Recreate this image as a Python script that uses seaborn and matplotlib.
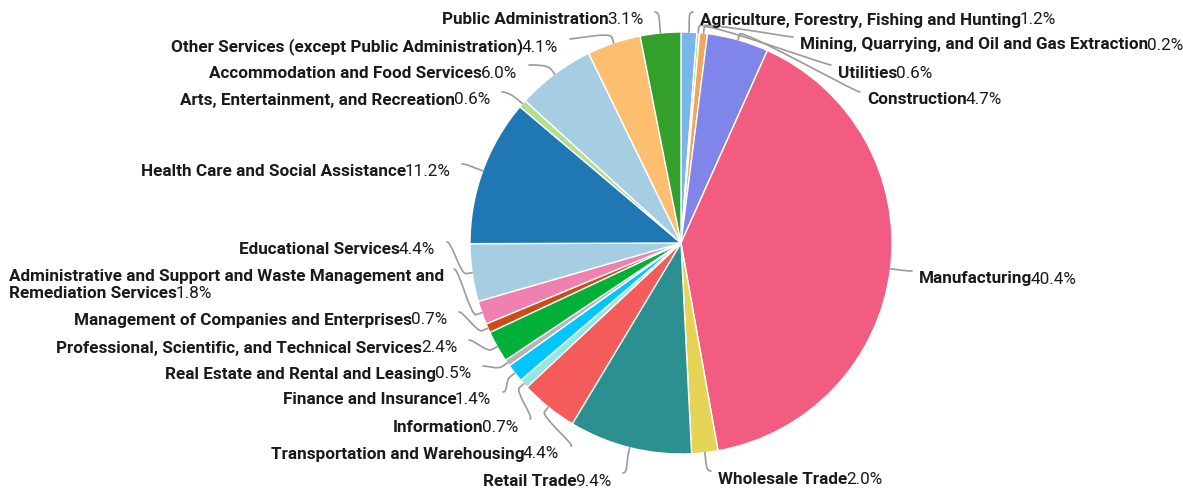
import numpy as np
import matplotlib
matplotlib.use("Agg")
import matplotlib.pyplot as plt
import seaborn as sns
from matplotlib.path import Path
from matplotlib.patches import PathPatch

sectors = [
    "Agriculture, Forestry, Fishing and Hunting",
    "Mining, Quarrying, and Oil and Gas Extraction",
    "Utilities",
    "Construction",
    "Manufacturing",
    "Wholesale Trade",
    "Retail Trade",
    "Transportation and Warehousing",
    "Information",
    "Finance and Insurance",
    "Real Estate and Rental and Leasing",
    "Professional, Scientific, and Technical Services",
    "Management of Companies and Enterprises",
    "Administrative and Support and Waste Management and\nRemediation Services",
    "Educational Services",
    "Health Care and Social Assistance",
    "Arts, Entertainment, and Recreation",
    "Accommodation and Food Services",
    "Other Services (except Public Administration)",
    "Public Administration",
]
shares = [1.2, 0.2, 0.6, 4.7, 40.4, 2.0, 9.4, 4.4, 0.7, 1.4, 0.5, 2.4, 0.7, 1.8,
          4.4, 11.2, 0.6, 6.0, 4.1, 3.1]
colors = ["#7cb5ec", "#90ed7d", "#f7a35c", "#8085e9", "#f15c80", "#e4d354",
          "#2b908f", "#f45b5b", "#91e8e1", "#00c5ff", "#b5b5b5", "#00b039",
          "#cc4c16", "#f080b0", "#a6cee3", "#1f78b4", "#b2df8a", "#a6cee3",
          "#fdbf6f", "#33a02c"]

# label layout in pixels: (side, x anchor, y centre)
# R: text starts at x; L: text ends at x; A: two-line block starting at x
label_layout = [
    ("R", 700, 20), ("R", 800, 45), ("R", 838, 73), ("R", 867, 100),
    ("R", 919, 279), ("R", 718, 479),
    ("L", 611, 481), ("L", 559, 454), ("L", 518, 427), ("L", 491, 400),
    ("L", 471, 374), ("L", 457, 348), ("L", 447, 320), ("A", 9, 285),
    ("L", 435, 250), ("L", 450, 172), ("L", 490, 100), ("L", 517, 73),
    ("L", 558, 47), ("L", 643, 20),
]

sns.set_theme(style="white")
plt.rcParams["font.family"] = ["Roboto", "DejaVu Sans"]

W, H = 1183, 492
CX, CY, R = 681, 243, 211
fig = plt.figure(figsize=(W / 100, H / 100), dpi=100)
ax = fig.add_axes([0, 0, 1, 1])

wedges, _ = ax.pie(shares, colors=colors, startangle=90, counterclock=False,
                   radius=1.0, wedgeprops=dict(edgecolor="white", linewidth=1.0))
ax.set_aspect("equal")
ax.set_xlim(-CX / R, (W - CX) / R)
ax.set_ylim(-(H - CY) / R, CY / R)
ax.axis("off")


def px2d(px, py):
    return (px - CX) / R, (CY - py) / R


fig.canvas.draw()
renderer = fig.canvas.get_renderer()
fs = 12.3
txt = "#1a1a1a"
line_col = "#9a9a9a"
tight = 1.5  # px: pull name and percentage together

for w, name, val, (side, lx, ly) in zip(wedges, sectors, shares, label_layout):
    tx, ty = px2d(lx, ly)
    pct = f"{val:.1f}%"
    if side == "R":
        t1 = ax.text(tx, ty, name, ha="left", va="center", fontsize=fs,
                     fontweight="bold", color=txt)
        bb = t1.get_window_extent(renderer)
        ax.text((bb.x1 - tight - CX) / R, ty, pct, ha="left", va="center",
                fontsize=fs, color=txt)
        cxp, cyp = lx - 7, ly - 8
    elif side == "L":
        t2 = ax.text(tx, ty, pct, ha="right", va="center", fontsize=fs, color=txt)
        bb = t2.get_window_extent(renderer)
        ax.text((bb.x0 + tight - CX) / R, ty, name, ha="right", va="center",
                fontsize=fs, fontweight="bold", color=txt)
        cxp, cyp = lx + 12, ly - 8
    else:
        first, second = name.split("\n")
        fx, fy = px2d(lx, ly - 8)
        t1 = ax.text(fx, fy, first, ha="left", va="center", fontsize=fs,
                     fontweight="bold", color=txt)
        first_end = t1.get_window_extent(renderer).x1
        sx, sy = px2d(lx, ly + 8)
        t2 = ax.text(sx, sy, second, ha="left", va="center", fontsize=fs,
                     fontweight="bold", color=txt)
        bb = t2.get_window_extent(renderer)
        ax.text((bb.x1 - tight - CX) / R, sy, pct, ha="left", va="center",
                fontsize=fs, color=txt)
        cxp, cyp = first_end + 10, ly - 16

    # soft connector: label -> break point -> slice edge
    mid = np.deg2rad((w.theta1 + w.theta2) / 2)
    touch = np.array([np.cos(mid), np.sin(mid)]) * 1.0
    brk = np.array([np.cos(mid), np.sin(mid)]) * (1.0 + 6 / R)
    lab = np.array(px2d(cxp, cyp))
    c1 = lab + np.array([5 / R if side in ("L", "A") else -5 / R, 0])
    c2 = 2 * brk - touch
    path = Path([lab, c1, c2, brk, touch],
                [Path.MOVETO, Path.CURVE4, Path.CURVE4, Path.CURVE4, Path.LINETO])
    ax.add_patch(PathPatch(path, fill=False, edgecolor=line_col, lw=1.2,
                           capstyle="round", joinstyle="round"))

fig.savefig("out.png", dpi=100, facecolor="white")
